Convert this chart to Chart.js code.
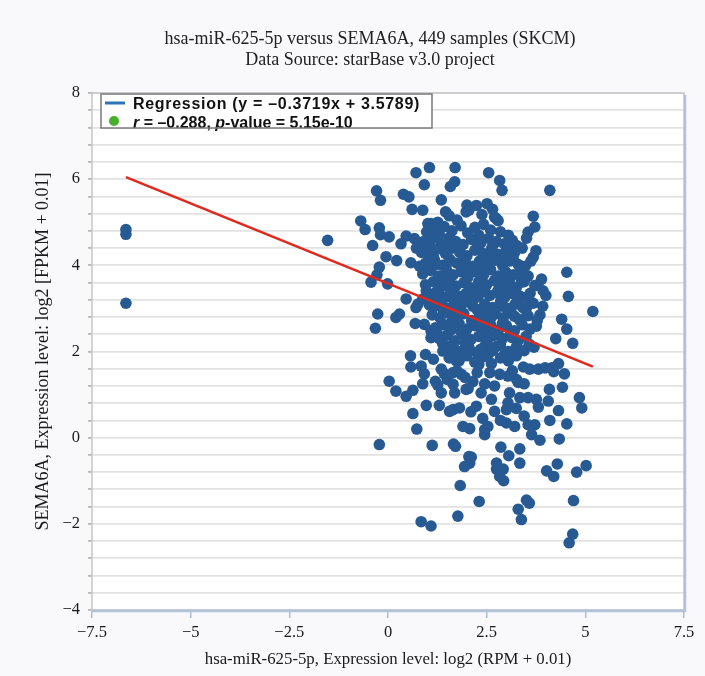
<!DOCTYPE html>
<html>
<head>
<meta charset="utf-8">
<title>hsa-miR-625-5p versus SEMA6A</title>
<script src="https://cdn.jsdelivr.net/npm/chart.js"></script>
<style>
  html, body { margin: 0; padding: 0; background: #f9f9fc; }
  #wrap { width: 705px; height: 676px; }
</style>
</head>
<body>
<div id="wrap"><canvas id="chart" width="705" height="676"></canvas></div>
<script>
// 标题与坐标轴文字
const titleLines = ['hsa-miR-625-5p versus SEMA6A, 449 samples (SKCM)', 'Data Source: starBase v3.0 project'];
const xAxisTitle = 'hsa-miR-625-5p, Expression level: log2 (RPM + 0.01)';
const yAxisTitle = 'SEMA6A, Expression level: log2 [FPKM + 0.01]';

// 坐标轴范围
const xRange = [-7.5, 7.5];
const yRange = [-4, 8];
const xStep = 2.5;
const yGridStep = 0.4;
const yLabelStep = 2;

// 回归与相关性
const regSlope = -0.3719;
const regIntercept = 3.5789;
const corrR = '\u22120.288';
const corrP = '5.15e-10';

// 样本点 [miRNA, SEMA6A]：左侧离群点
const outlierSamples = [
  [-6.64, 4.83], [-6.64, 4.72], [-6.64, 3.12], [-1.53, 4.58]
];

// 主点云外围
const edgeSamples = [
  [1.05, 6.27], [1.70, 6.27], [0.71, 6.15], [0.92, 5.87], [1.69, 5.94], [1.58, 5.83], [-0.29, 5.73], [-0.19, 5.51], [0.39, 5.65], [0.53, 5.59],
  [1.35, 5.52], [0.61, 5.30], [0.88, 5.28], [1.46, 5.24], [-0.69, 5.03], [-0.58, 4.83], [-0.22, 4.87], [-0.19, 4.71], [0.03, 4.66], [-0.39, 4.46],
  [0.46, 4.68], [0.33, 4.50], [-0.05, 4.20], [0.22, 4.11], [-0.22, 3.96], [-0.28, 3.78], [-0.43, 3.61], [-0.01, 3.57], [0.58, 4.06], [0.67, 4.62],
  [1.01, 4.97],
  [2.55, 6.15], [2.83, 5.97], [2.89, 5.74], [4.10, 5.74], [2.51, 5.43], [2.24, 5.39], [3.68, 5.14], [3.72, 4.89], [3.55, 4.77],
  [3.51, 4.63], [2.75, 5.08], [3.26, 4.46], [3.75, 4.34], [3.68, 4.19], [3.17, 4.15], [4.53, 3.84], [3.89, 3.68], [3.38, 3.61], [3.72, 3.53],
  [4.57, 3.28], [5.19, 2.93], [3.92, 3.05], [3.93, 3.41], [4.40, 2.75], [4.53, 2.52], [4.25, 2.30], [4.68, 2.19], [3.76, 2.59], [3.55, 2.83],
  [3.51, 3.02], [3.53, 3.26], [3.58, 2.17], [3.43, 1.64], [3.59, 1.59], [3.81, 1.59], [3.98, 1.62], [4.15, 1.62], [4.32, 1.72], [4.47, 1.48],
  [4.20, 1.53], [3.26, 1.35], [3.04, 1.43], [2.83, 1.47], [2.58, 1.51], [2.26, 1.51], [3.30, 1.28], [4.09, 1.12], [4.42, 1.17], [2.03, 1.14],
  [2.36, 1.04], [2.62, 0.89], [3.08, 1.04], [3.34, 0.93], [3.55, 0.93], [3.76, 0.89], [3.04, 0.81], [2.24, 0.73], [2.70, 0.61], [3.81, 0.71],
  [4.06, 0.85], [4.85, 0.93], [4.91, 0.69], [4.32, 0.63], [3.00, 0.65], [3.25, 0.68],
  [2.07, 0.21], [2.45, 0.19], [2.53, 0.26], [3.00, 0.34], [3.21, 0.26], [3.55, 0.30], [3.72, 0.30], [4.10, 0.40], [4.53, 0.32], [3.64, 0.07],
  [3.85, -0.06], [4.34, -0.03], [2.45, 0.07], [2.86, -0.22], [3.34, -0.26], [3.06, -0.42], [2.11, -0.45], [2.07, -0.59], [2.75, -0.59], [3.34, -0.59],
  [2.75, -0.73], [2.92, -0.73], [2.83, -0.90], [2.93, -1.00], [4.02, -0.77], [4.20, -0.90], [4.29, -0.61], [4.78, -0.80], [5.02, -0.65], [2.31, -1.48],
  [3.51, -1.45], [3.58, -1.52], [3.30, -1.66], [3.38, -1.90], [4.70, -1.46], [4.68, -2.24], [4.59, -2.44],
  [0.73, 0.20], [1.90, 0.26], [-0.22, -0.16], [1.12, -0.18], [1.66, -0.15], [1.71, -0.20], [2.05, -0.44], [1.94, -0.67], [1.83, -1.11], [1.77, -1.82],
  [0.84, -1.95], [1.09, -2.05],
  [0.46, 3.22], [0.71, 3.02], [0.76, 3.10], [-0.26, 2.87], [0.20, 2.79], [0.29, 2.87], [-0.32, 2.54], [0.69, 2.65], [0.92, 2.63], [1.09, 2.48],
  [1.09, 2.32], [0.57, 1.90], [0.95, 1.93], [1.15, 1.82], [0.58, 1.64], [0.84, 1.66], [0.92, 1.48], [1.35, 1.59], [1.43, 1.48], [0.03, 1.31],
  [0.88, 1.25], [1.20, 1.31], [1.26, 1.22], [1.65, 1.24], [0.20, 1.08], [0.46, 0.96], [0.63, 1.10], [1.35, 1.04], [1.69, 1.04], [1.98, 1.12],
  [0.97, 0.75], [0.63, 0.56], [1.56, 0.61], [1.81, 0.69], [1.65, 0.65], [1.39, 2.17], [1.26, 2.40], [1.39, 2.01], [1.65, 2.17], [1.73, 1.78],
  [1.65, 1.51], [1.86, 1.47], [0.97, 3.41], [1.18, 3.26], [1.14, 3.02], [1.39, 3.02], [1.47, 3.26], [0.88, 3.22],
  [0.72, 4.40], [1.50, 1.35], [1.75, 1.55], [1.95, 1.40], [2.15, 1.30], [2.45, 1.25], [2.70, 1.20], [3.15, 1.55], [3.45, 1.25], [3.70, 2.10],
  [3.85, 2.85], [4.00, 3.30], [3.80, 3.55], [3.62, 4.10], [2.65, 5.30], [2.00, 5.40], [1.30, 0.75], [2.10, 0.60], [2.40, 0.45], [2.85, 0.40],
  [3.45, 0.50]
];

// 主点云中心密集区
const coreSamples = [
  [1.26, 5.00], [1.09, 4.97], [1.55, 5.15], [1.98, 5.24], [2.05, 5.28], [2.70, 5.12], [2.79, 5.04], [2.38, 5.18], [1.75, 5.05],
  [0.98, 4.78], [1.20, 4.85], [1.42, 4.90], [1.62, 4.80], [1.85, 4.92], [2.02, 4.75], [2.20, 4.88], [2.42, 4.95], [2.60, 4.82], [2.85, 4.78], [3.05, 4.70], [1.30, 4.72], [2.30, 4.70],
  [0.90, 4.55], [1.12, 4.62], [1.35, 4.50], [1.55, 4.64], [1.72, 4.55], [1.90, 4.48], [2.12, 4.60], [2.35, 4.52], [2.55, 4.63], [2.75, 4.55], [2.95, 4.50], [3.15, 4.58], [1.05, 4.45], [2.65, 4.45],
  [0.85, 4.30], [1.02, 4.25], [1.25, 4.38], [1.45, 4.28], [1.62, 4.40], [1.82, 4.30], [2.00, 4.22], [2.20, 4.35], [2.40, 4.28], [2.62, 4.38], [2.80, 4.25], [3.00, 4.35], [3.20, 4.28], [3.40, 4.40], [1.15, 4.20], [2.50, 4.20],
  [0.95, 4.05], [1.18, 4.12], [1.38, 4.00], [1.55, 4.15], [1.75, 4.05], [1.95, 4.12], [2.15, 3.98], [2.32, 4.10], [2.52, 4.02], [2.72, 4.12], [2.90, 4.00], [3.08, 4.10], [3.30, 4.02], [3.48, 3.98], [0.80, 3.98], [2.05, 3.95],
  [0.88, 3.80], [1.08, 3.88], [1.28, 3.75], [1.48, 3.90], [1.65, 3.78], [1.85, 3.85], [2.02, 3.72], [2.22, 3.85], [2.42, 3.78], [2.60, 3.90], [2.80, 3.75], [2.98, 3.85], [3.18, 3.78], [3.36, 3.88], [3.55, 3.75], [1.40, 3.70],
  [0.95, 3.55], [1.15, 3.62], [1.35, 3.50], [1.55, 3.65], [1.72, 3.52], [1.92, 3.60], [2.10, 3.48], [2.30, 3.62], [2.50, 3.55], [2.70, 3.65], [2.88, 3.50], [3.08, 3.60], [3.25, 3.48], [3.45, 3.62], [2.20, 3.45],
  [1.00, 3.30], [1.22, 3.38], [1.40, 3.25], [1.60, 3.40], [1.80, 3.28], [1.98, 3.35], [2.18, 3.22], [2.38, 3.38], [2.58, 3.30], [2.78, 3.40], [2.95, 3.25], [3.15, 3.35], [3.35, 3.28], [3.60, 3.35], [1.90, 3.20],
  [1.05, 3.08], [1.25, 3.15], [1.48, 3.00], [1.68, 3.12], [1.85, 3.05], [2.05, 3.15], [2.25, 2.98], [2.45, 3.10], [2.65, 3.02], [2.85, 3.15], [3.02, 3.00], [3.22, 3.10], [3.42, 3.02], [3.68, 3.12], [2.50, 2.95],
  [1.12, 2.85], [1.32, 2.78], [1.52, 2.90], [1.72, 2.75], [1.92, 2.88], [2.12, 2.72], [2.32, 2.85], [2.52, 2.75], [2.72, 2.88], [2.92, 2.78], [3.12, 2.90], [3.32, 2.75], [3.52, 2.85], [3.78, 2.72],
  [1.20, 2.55], [1.40, 2.62], [1.60, 2.50], [1.80, 2.65], [2.00, 2.52], [2.20, 2.60], [2.40, 2.48], [2.60, 2.62], [2.80, 2.50], [3.00, 2.60], [3.20, 2.48], [3.40, 2.62], [3.60, 2.52], [2.30, 2.70],
  [1.30, 2.30], [1.50, 2.38], [1.70, 2.25], [1.90, 2.40], [2.10, 2.28], [2.30, 2.35], [2.50, 2.22], [2.70, 2.38], [2.90, 2.30], [3.10, 2.40], [3.30, 2.25], [3.50, 2.35], [1.95, 2.20],
  [1.45, 2.05], [1.65, 2.12], [1.85, 2.00], [2.05, 2.10], [2.25, 1.98], [2.45, 2.12], [2.65, 2.02], [2.85, 2.15], [3.05, 2.00], [3.25, 2.10], [3.45, 2.02], [2.55, 1.95],
  [1.55, 1.85], [1.80, 1.78], [2.00, 1.90], [2.20, 1.75], [2.42, 1.88], [2.62, 1.72], [2.85, 1.85], [3.05, 1.78], [3.25, 1.90], [2.30, 1.70],
  [1.60, 4.10], [2.40, 3.95], [2.85, 3.30], [1.75, 2.95], [2.60, 2.35], [3.00, 3.70],
  [1.48, 4.45], [2.28, 4.45], [3.08, 4.45], [1.22, 4.02], [2.62, 4.25], [1.88, 4.00], [2.95, 4.18], [1.32, 3.58], [2.05, 3.82], [2.78, 3.60],
  [3.40, 3.75], [1.58, 3.45], [2.45, 3.48], [3.05, 3.48], [1.70, 3.25], [2.28, 3.28], [2.90, 3.05], [3.30, 3.20], [1.40, 2.95], [2.15, 3.05],
  [2.62, 2.80], [3.20, 2.82], [1.62, 2.72], [2.42, 2.62], [2.90, 2.65], [1.85, 2.45], [2.48, 2.45], [3.15, 2.32], [2.00, 2.30], [2.75, 2.12],
  [2.35, 2.05], [2.95, 1.92], [1.70, 1.95]
];

const serif = '"Liberation Serif", "Times New Roman", serif';
const sans = '"Liberation Sans", Arial, sans-serif';
const pointColor = '#275a93';
const lineColor = '#e2281b';

const allSamples = outlierSamples.concat(edgeSamples, coreSamples);
const samplePoints = allSamples.map(([x, y]) => ({ x, y }));

// 回归线从最小 x 画到最大 x
const sampleX = allSamples.map((p) => p[0]);
const regX = [Math.min(...sampleX), Math.max(...sampleX)];
const regressionPoints = regX.map((x) => ({ x, y: regSlope * x + regIntercept }));

const withMinus = (v) => String(v).replace('-', '\u2212');

// 两行标题，居中略偏右
const chartTitle = {
  id: 'chartTitle',
  afterDraw(chart) {
    const { ctx } = chart;
    ctx.save();
    ctx.fillStyle = '#222222';
    ctx.font = '18px ' + serif;
    ctx.textAlign = 'center';
    ctx.textBaseline = 'middle';
    titleLines.forEach((line, i) => ctx.fillText(line, 370, 39 + i * 21));
    ctx.restore();
  }
};

// 绘图区白底与边框
const plotFrame = {
  id: 'plotFrame',
  beforeDraw(chart) {
    const { ctx, chartArea: a } = chart;
    ctx.save();
    ctx.fillStyle = '#ffffff';
    ctx.fillRect(a.left, a.top, a.right - a.left, a.bottom - a.top);
    ctx.restore();
  },
  afterDatasetsDraw(chart) {
    const { ctx, chartArea: a } = chart;
    ctx.save();
    ctx.strokeStyle = '#c6c6c6';
    ctx.lineWidth = 1.5;
    ctx.strokeRect(a.left, a.top, a.right - a.left, a.bottom - a.top);
    // 右侧与底部的阴影边
    ctx.strokeStyle = '#b3c2d8';
    ctx.lineWidth = 2.5;
    ctx.beginPath();
    ctx.moveTo(a.right + 1, a.top + 2);
    ctx.lineTo(a.right + 1, a.bottom + 1);
    ctx.lineTo(a.left, a.bottom + 1);
    ctx.stroke();
    ctx.restore();
  }
};

// 左上角图例框
const legendBox = {
  id: 'legendBox',
  afterDraw(chart) {
    const { ctx, chartArea: a } = chart;
    const x = a.left + 9, y = a.top + 1, w = 331, h = 34;
    ctx.save();
    ctx.fillStyle = '#ffffff';
    ctx.fillRect(x, y, w, h);

    ctx.strokeStyle = '#2e74b5';
    ctx.lineWidth = 3;
    ctx.beginPath();
    ctx.moveTo(x + 4, y + 9);
    ctx.lineTo(x + 24, y + 9);
    ctx.stroke();

    ctx.fillStyle = '#46b02a';
    ctx.beginPath();
    ctx.arc(x + 13, y + 27, 5, 0, Math.PI * 2);
    ctx.fill();

    ctx.fillStyle = '#111111';
    ctx.textBaseline = 'alphabetic';
    ctx.font = 'bold 16px ' + sans;
    ctx.letterSpacing = '0.7px';
    ctx.fillText('Regression (y = \u2013' + Math.abs(regSlope) + 'x + ' + regIntercept + ')', x + 32, y + 14.5);
    ctx.letterSpacing = '0px';

    // r 与 p 用斜体
    const parts = [
      ['italic bold', 'r'],
      ['bold', ' = ' + corrR.replace('\u2212', '\u2013') + ', '],
      ['italic bold', 'p'],
      ['bold', '-value = ' + corrP]
    ];
    let tx = x + 32;
    parts.forEach(([style, text]) => {
      ctx.font = style + ' 16px ' + sans;
      ctx.fillText(text, tx, y + 33.5);
      tx += ctx.measureText(text).width;
    });

    ctx.strokeStyle = '#7a7a7a';
    ctx.lineWidth = 1.5;
    ctx.strokeRect(x, y, w, h);
    ctx.restore();
  }
};

new Chart(document.getElementById('chart'), {
  type: 'scatter',
  data: {
    datasets: [
      {
        type: 'line',
        label: 'Regression',
        data: regressionPoints,
        borderColor: lineColor,
        borderWidth: 2.5,
        pointRadius: 0,
        fill: false,
        order: 0
      },
      {
        label: 'samples',
        data: samplePoints,
        backgroundColor: pointColor,
        borderColor: pointColor,
        borderWidth: 0,
        pointRadius: 5.8,
        order: 1
      }
    ]
  },
  options: {
    responsive: false,
    animation: false,
    layout: { padding: { left: 0, right: 21, top: 93, bottom: 0 } },
    plugins: {
      legend: { display: false },
      tooltip: { enabled: false },
      title: { display: false }
    },
    scales: {
      x: {
        type: 'linear',
        min: xRange[0],
        max: xRange[1],
        afterFit: (s) => { s.height = 66; },
        border: { display: false },
        grid: { drawOnChartArea: false, tickLength: 8, tickColor: '#a9c0dc', lineWidth: 1.5 },
        ticks: {
          stepSize: xStep,
          padding: 5,
          color: '#1a1a1a',
          font: { family: serif, size: 16.5 },
          callback: (v) => withMinus(v)
        },
        title: {
          display: true,
          text: xAxisTitle,
          color: '#1a1a1a',
          font: { family: serif, size: 16.8 },
          padding: { top: 0, bottom: 6 }
        }
      },
      y: {
        type: 'linear',
        min: yRange[0],
        max: yRange[1],
        afterFit: (s) => { s.width = 92; },
        border: { display: false },
        grid: { color: '#e3e3e3', lineWidth: 1.8, tickLength: 4, tickColor: '#b8b8b8' },
        ticks: {
          stepSize: yGridStep,
          autoSkip: false,
          padding: 8,
          color: '#1a1a1a',
          font: { family: serif, size: 16.5 },
          callback: (v) => (Math.abs(v / yLabelStep - Math.round(v / yLabelStep)) < 1e-6 ? withMinus(v) : '')
        },
        title: {
          display: true,
          text: yAxisTitle,
          color: '#1a1a1a',
          font: { family: serif, size: 18 },
          padding: { top: 32, bottom: 0 }
        }
      }
    }
  },
  plugins: [chartTitle, plotFrame, legendBox]
});
</script>
</body>
</html>
